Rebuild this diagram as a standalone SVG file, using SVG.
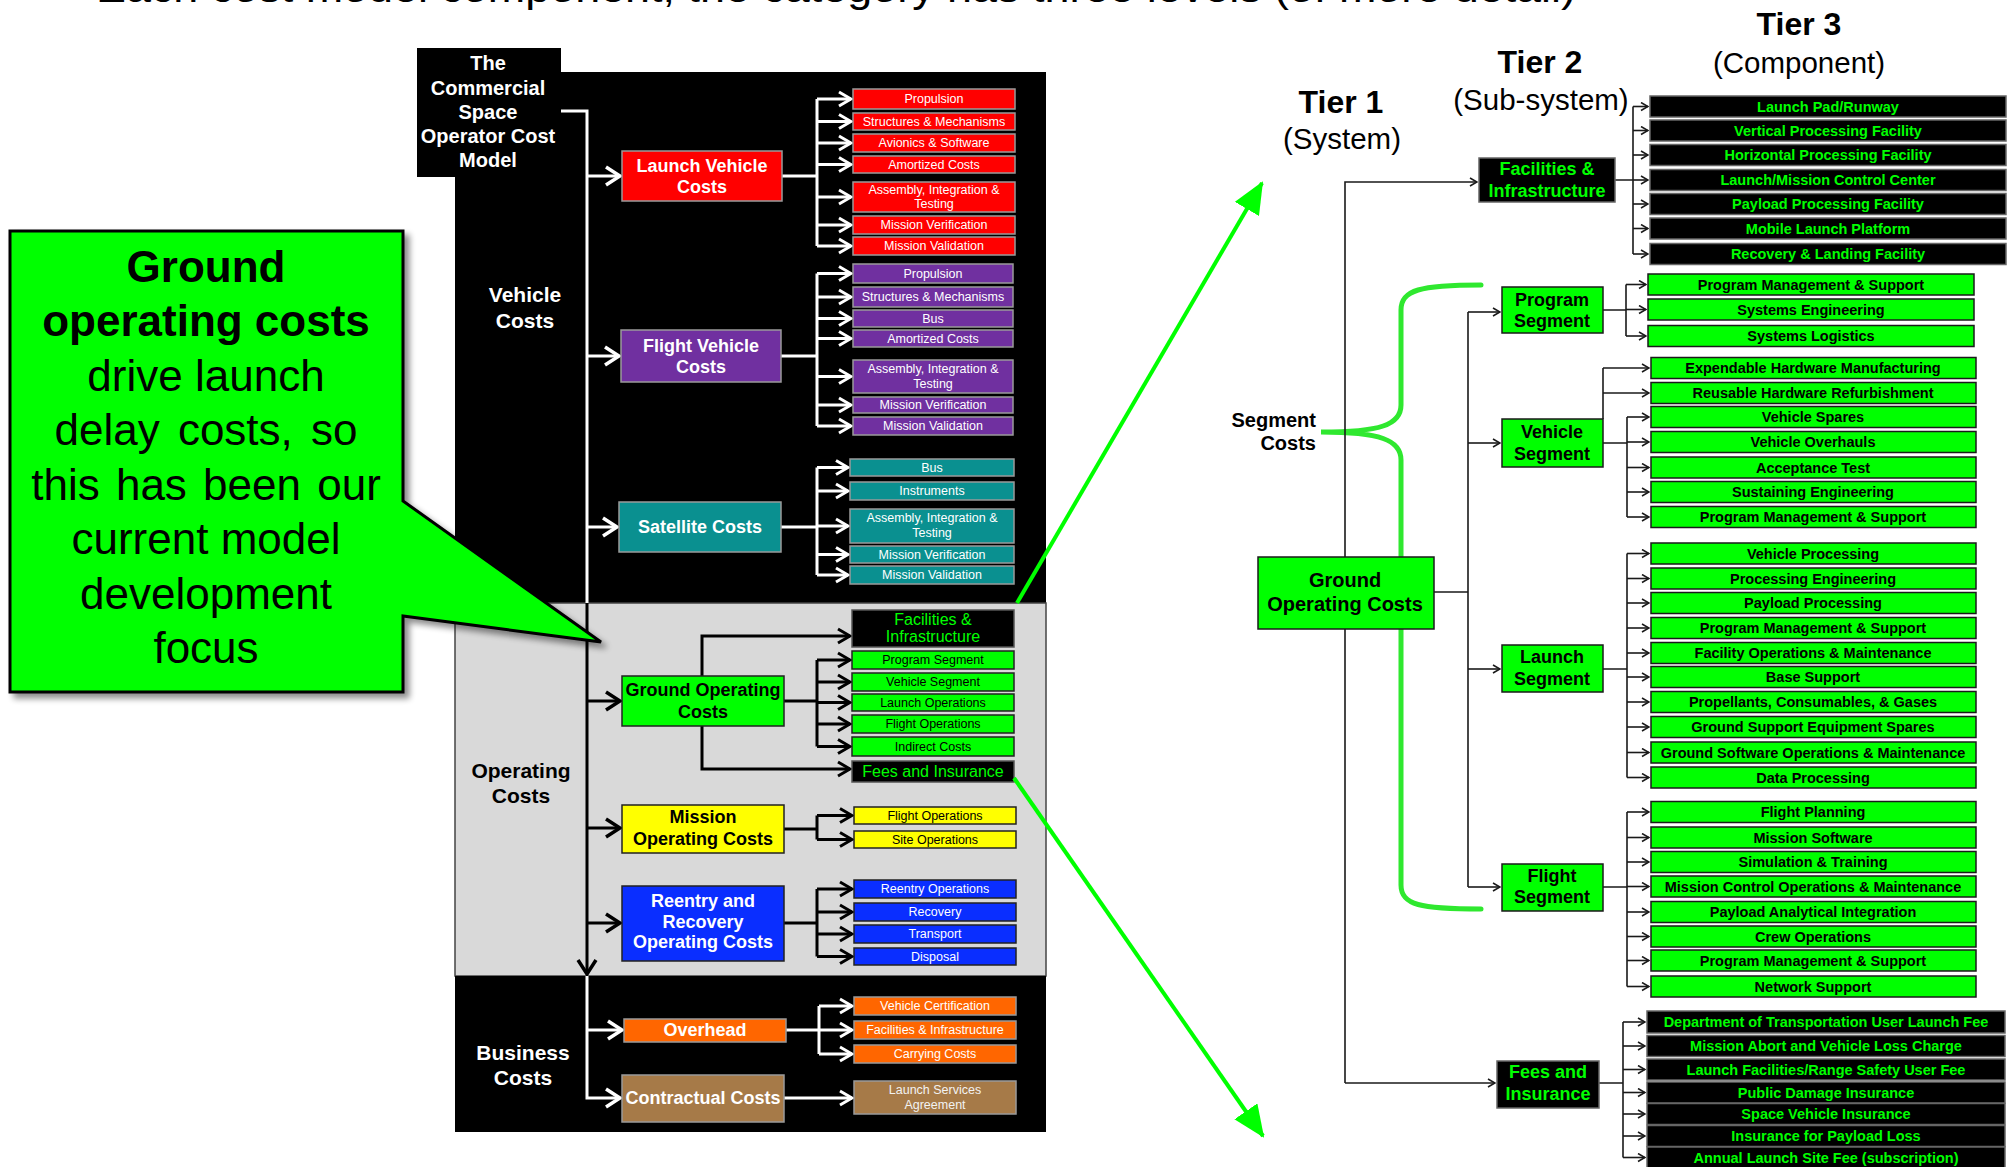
<svg xmlns="http://www.w3.org/2000/svg" width="2011" height="1167" viewBox="0 0 2011 1167">
<defs>
<style>
text{font-family:"Liberation Sans",Arial,sans-serif}
.b{font-weight:bold}
.c{text-anchor:middle}
.w{fill:#fff}
.k{fill:#000}
.g{fill:#00ff00}
.wl{fill:none;stroke:#fff;stroke-width:3}
.bl{fill:none;stroke:#000;stroke-width:3}
.rl{fill:none;stroke:#1a1a1a;stroke-width:1.6}
.si{font-size:12.5px;text-anchor:middle}
.cat{font-size:18px;font-weight:bold;text-anchor:middle}
.it{font-size:14.5px;font-weight:bold;text-anchor:middle}
.t2{font-size:18px;font-weight:bold;text-anchor:middle}
.gi{fill:#00ff00;stroke:#1a1a1a;stroke-width:1.5}
.ki{fill:#000;stroke:#666;stroke-width:1.5}
.lb{stroke:#9a9a9a;stroke-width:1.5}
.db{stroke:#222;stroke-width:1.5}
.red{fill:#ff0000}
.pur{fill:#7030a0}
.tea{fill:#0a9090}
.grn{fill:#00ff00}
.yel{fill:#ffff00}
.blu{fill:#0a2eff}
.ora{fill:#ff6600}
.bro{fill:#a67a48}
.lbl{font-size:21px;font-weight:bold;text-anchor:middle}
.tier{font-size:32px;font-weight:bold;text-anchor:middle;fill:#000}
.sub{font-size:29.5px;text-anchor:middle;fill:#000}
.co{font-size:44px;text-anchor:middle;fill:#000}
</style>
<marker id="wA" markerUnits="userSpaceOnUse" viewBox="0 0 18 22" markerWidth="18" markerHeight="22" refX="16" refY="11" orient="auto"><path d="M2,2 L16,11 L2,20" fill="none" stroke="#fff" stroke-width="3.5"/></marker>
<marker id="bA" markerUnits="userSpaceOnUse" viewBox="0 0 18 22" markerWidth="18" markerHeight="22" refX="16" refY="11" orient="auto"><path d="M2,2 L16,11 L2,20" fill="none" stroke="#000" stroke-width="3.5"/></marker>
<marker id="ws" markerUnits="userSpaceOnUse" viewBox="0 0 16 18" markerWidth="16" markerHeight="18" refX="14" refY="9" orient="auto"><path d="M2,2 L14,9 L2,16" fill="none" stroke="#fff" stroke-width="3"/></marker>
<marker id="bs" markerUnits="userSpaceOnUse" viewBox="0 0 16 18" markerWidth="16" markerHeight="18" refX="14" refY="9" orient="auto"><path d="M2,2 L14,9 L2,16" fill="none" stroke="#000" stroke-width="3"/></marker>
<marker id="ra" markerUnits="userSpaceOnUse" viewBox="0 0 9 10" markerWidth="9" markerHeight="10" refX="8" refY="5" orient="auto"><path d="M1,1 L8,5 L1,9" fill="none" stroke="#1a1a1a" stroke-width="1.6"/></marker>
<marker id="ga" markerUnits="userSpaceOnUse" viewBox="0 0 32 28" markerWidth="32" markerHeight="28" refX="30" refY="14" orient="auto"><path d="M0,0 L32,14 L0,28 Z" fill="#00ff00"/></marker>
<filter id="sh" x="-10%" y="-10%" width="130%" height="130%"><feGaussianBlur in="SourceAlpha" stdDeviation="3"/><feOffset dx="5" dy="5"/><feComponentTransfer><feFuncA type="linear" slope="0.45"/></feComponentTransfer><feMerge><feMergeNode/><feMergeNode in="SourceGraphic"/></feMerge></filter>
</defs>
<rect width="2011" height="1167" fill="#fff"/>
<text x="96" y="2" font-size="40" textLength="1480" lengthAdjust="spacingAndGlyphs">Each cost model component, the category has three levels (of more detail)</text>

<!-- LEFT PANEL -->
<g id="left-panel">
<rect x="455" y="72" width="591" height="531" fill="#000"/>
<rect x="455" y="603" width="591" height="373" fill="#d9d9d9" stroke="#444" stroke-width="1.5"/>
<rect x="455" y="976" width="591" height="156" fill="#000"/>
<text class="lbl w" x="525" y="302">Vehicle</text>
<text class="lbl w" x="525" y="328">Costs</text>
<text class="lbl k" x="521" y="778">Operating</text>
<text class="lbl k" x="521" y="803">Costs</text>
<text class="lbl w" x="523" y="1060">Business</text>
<text class="lbl w" x="523" y="1085">Costs</text>
</g>
<g id="title">
<rect x="417" y="48" width="144" height="129" fill="#000"/>
<text class="w b c" font-size="20" x="488" y="70">The</text>
<text class="w b c" font-size="20" x="488" y="95">Commercial</text>
<text class="w b c" font-size="20" x="488" y="119">Space</text>
<text class="w b c" font-size="20" x="488" y="143">Operator Cost</text>
<text class="w b c" font-size="20" x="488" y="167">Model</text>
</g>

<g id="left-connectors">
<path class="wl" d="M561,111 H587 V603"/>
<path class="wl" d="M587,176 H620" marker-end="url(#wA)"/>
<path class="wl" d="M587,356 H619" marker-end="url(#wA)"/>
<path class="wl" d="M587,527 H617" marker-end="url(#wA)"/>
<path class="bl" d="M587,603 V974" marker-end="url(#bA)"/>
<path class="bl" d="M587,701 H620" marker-end="url(#bA)"/>
<path class="bl" d="M587,828 H620" marker-end="url(#bA)"/>
<path class="bl" d="M587,923 H620" marker-end="url(#bA)"/>
<path class="wl" d="M587,976 V1098 H620" marker-end="url(#wA)"/>
<path class="wl" d="M587,1030 H622" marker-end="url(#wA)"/>
<!-- LV -->
<path class="wl" d="M782,176 H817 M817,99 V246"/>
<path class="wl" d="M817,99 H851" marker-end="url(#ws)"/>
<path class="wl" d="M817,121.5 H851" marker-end="url(#ws)"/>
<path class="wl" d="M817,143 H851" marker-end="url(#ws)"/>
<path class="wl" d="M817,164.5 H851" marker-end="url(#ws)"/>
<path class="wl" d="M817,197 H851" marker-end="url(#ws)"/>
<path class="wl" d="M817,225 H851" marker-end="url(#ws)"/>
<path class="wl" d="M817,246 H851" marker-end="url(#ws)"/>
<!-- FV -->
<path class="wl" d="M781,356 H817 M817,273.5 V426"/>
<path class="wl" d="M817,273.5 H851" marker-end="url(#ws)"/>
<path class="wl" d="M817,297 H851" marker-end="url(#ws)"/>
<path class="wl" d="M817,318.5 H851" marker-end="url(#ws)"/>
<path class="wl" d="M817,338.5 H851" marker-end="url(#ws)"/>
<path class="wl" d="M817,376.5 H851" marker-end="url(#ws)"/>
<path class="wl" d="M817,405 H851" marker-end="url(#ws)"/>
<path class="wl" d="M817,426 H851" marker-end="url(#ws)"/>
<!-- SAT -->
<path class="wl" d="M781,527 H817 M817,467.5 V575"/>
<path class="wl" d="M817,467.5 H848" marker-end="url(#ws)"/>
<path class="wl" d="M817,491 H848" marker-end="url(#ws)"/>
<path class="wl" d="M817,526 H848" marker-end="url(#ws)"/>
<path class="wl" d="M817,554.5 H848" marker-end="url(#ws)"/>
<path class="wl" d="M817,575 H848" marker-end="url(#ws)"/>
<!-- GROUND -->
<path class="bl" d="M784,701 H817 M817,660 V746.5"/>
<path class="bl" d="M702,676 V636 H850" marker-end="url(#bs)"/>
<path class="bl" d="M702,726 V769 H850" marker-end="url(#bs)"/>
<path class="bl" d="M817,660 H850" marker-end="url(#bs)"/>
<path class="bl" d="M817,682 H850" marker-end="url(#bs)"/>
<path class="bl" d="M817,702.5 H850" marker-end="url(#bs)"/>
<path class="bl" d="M817,724 H850" marker-end="url(#bs)"/>
<path class="bl" d="M817,746.5 H850" marker-end="url(#bs)"/>
<!-- MISSION -->
<path class="bl" d="M784,829 H817 M817,815.5 V839.5"/>
<path class="bl" d="M817,815.5 H852" marker-end="url(#bs)"/>
<path class="bl" d="M817,839.5 H852" marker-end="url(#bs)"/>
<!-- REENTRY -->
<path class="bl" d="M784,923 H817 M817,889 V956.5"/>
<path class="bl" d="M817,889 H852" marker-end="url(#bs)"/>
<path class="bl" d="M817,912 H852" marker-end="url(#bs)"/>
<path class="bl" d="M817,934 H852" marker-end="url(#bs)"/>
<path class="bl" d="M817,956.5 H852" marker-end="url(#bs)"/>
<!-- OVERHEAD -->
<path class="wl" d="M786,1030 H819 M819,1006 V1054"/>
<path class="wl" d="M819,1006 H852" marker-end="url(#ws)"/>
<path class="wl" d="M819,1030 H852" marker-end="url(#ws)"/>
<path class="wl" d="M819,1054 H852" marker-end="url(#ws)"/>
<!-- CONTRACT -->
<path class="wl" d="M784,1098 H852" marker-end="url(#ws)"/>
</g>

<g id="launch-vehicle-costs">
<rect class="red lb" x="622" y="151" width="160" height="50"/>
<text class="cat w" x="702" y="172">Launch Vehicle</text>
<text class="cat w" x="702" y="193">Costs</text>
</g>
<g id="lv-items">
<rect class="red lb" x="853" y="89" width="162" height="20"/><text class="si w" x="934" y="103.4">Propulsion</text>
<rect class="red lb" x="853" y="113" width="162" height="17"/><text class="si w" x="934" y="125.9">Structures &amp; Mechanisms</text>
<rect class="red lb" x="853" y="134" width="162" height="18"/><text class="si w" x="934" y="147.4">Avionics &amp; Software</text>
<rect class="red lb" x="853" y="156" width="162" height="17"/><text class="si w" x="934" y="168.9">Amortized Costs</text>
<rect class="red lb" x="853" y="182" width="162" height="30"/><text class="si w" x="934" y="193.5">Assembly, Integration &amp;</text><text class="si w" x="934" y="208">Testing</text>
<rect class="red lb" x="853" y="216" width="162" height="18"/><text class="si w" x="934" y="229.4">Mission Verification</text>
<rect class="red lb" x="853" y="237" width="162" height="18"/><text class="si w" x="934" y="250.4">Mission Validation</text>
</g>

<g id="flight-vehicle-costs">
<rect class="pur lb" x="621" y="330" width="160" height="52"/>
<text class="cat w" x="701" y="352">Flight Vehicle</text>
<text class="cat w" x="701" y="373">Costs</text>
</g>
<g id="fv-items">
<rect class="pur lb" x="853" y="264" width="160" height="19"/><text class="si w" x="933" y="277.9">Propulsion</text>
<rect class="pur lb" x="853" y="287" width="160" height="20"/><text class="si w" x="933" y="301.4">Structures &amp; Mechanisms</text>
<rect class="pur lb" x="853" y="310" width="160" height="17"/><text class="si w" x="933" y="322.9">Bus</text>
<rect class="pur lb" x="853" y="330" width="160" height="17"/><text class="si w" x="933" y="342.9">Amortized Costs</text>
<rect class="pur lb" x="853" y="360" width="160" height="33"/><text class="si w" x="933" y="373">Assembly, Integration &amp;</text><text class="si w" x="933" y="388">Testing</text>
<rect class="pur lb" x="853" y="397" width="160" height="16"/><text class="si w" x="933" y="409.4">Mission Verification</text>
<rect class="pur lb" x="853" y="417" width="160" height="18"/><text class="si w" x="933" y="430.4">Mission Validation</text>
</g>

<g id="satellite-costs">
<rect class="tea lb" x="619" y="502" width="162" height="50"/>
<text class="cat w" x="700" y="533">Satellite Costs</text>
</g>
<g id="sat-items">
<rect class="tea lb" x="850" y="459" width="164" height="17"/><text class="si w" x="932" y="471.9">Bus</text>
<rect class="tea lb" x="850" y="482" width="164" height="18"/><text class="si w" x="932" y="495.4">Instruments</text>
<rect class="tea lb" x="850" y="509" width="164" height="34"/><text class="si w" x="932" y="522">Assembly, Integration &amp;</text><text class="si w" x="932" y="537">Testing</text>
<rect class="tea lb" x="850" y="546" width="164" height="17"/><text class="si w" x="932" y="558.9">Mission Verification</text>
<rect class="tea lb" x="850" y="566" width="164" height="18"/><text class="si w" x="932" y="579.4">Mission Validation</text>
</g>

<g id="ground-operating-costs-left">
<rect class="grn db" x="622" y="676" width="162" height="50"/>
<text class="cat k" x="703" y="696">Ground Operating</text>
<text class="cat k" x="703" y="718">Costs</text>
</g>
<g id="ground-items-left">
<rect x="852" y="610" width="162" height="37" fill="#000" stroke="#555" stroke-width="1.5"/><text class="g c" font-size="16" x="933" y="625">Facilities &amp;</text><text class="g c" font-size="16" x="933" y="642">Infrastructure</text>
<rect class="grn db" x="852" y="651" width="162" height="18"/><text class="si k" x="933" y="664.4">Program Segment</text>
<rect class="grn db" x="852" y="673" width="162" height="18"/><text class="si k" x="933" y="686.4">Vehicle Segment</text>
<rect class="grn db" x="852" y="694" width="162" height="17"/><text class="si k" x="933" y="706.9">Launch Operations</text>
<rect class="grn db" x="852" y="715" width="162" height="18"/><text class="si k" x="933" y="728.4">Flight Operations</text>
<rect class="grn db" x="852" y="737" width="162" height="19"/><text class="si k" x="933" y="750.9">Indirect Costs</text>
<rect x="852" y="761" width="162" height="21" fill="#000" stroke="#555" stroke-width="1.5"/><text class="g c" font-size="16" x="933" y="777">Fees and Insurance</text>
</g>

<g id="mission-operating-costs">
<rect class="yel db" x="622" y="805" width="162" height="48"/>
<text class="cat k" x="703" y="823">Mission</text>
<text class="cat k" x="703" y="845">Operating Costs</text>
</g>
<g id="mission-items">
<rect class="yel db" x="854" y="807" width="162" height="17"/><text class="si k" x="935" y="819.9">Flight Operations</text>
<rect class="yel db" x="854" y="831" width="162" height="17"/><text class="si k" x="935" y="843.9">Site Operations</text>
</g>

<g id="reentry-recovery-costs">
<rect class="blu db" x="622" y="886" width="162" height="75"/>
<text class="cat w" x="703" y="907">Reentry and</text>
<text class="cat w" x="703" y="928">Recovery</text>
<text class="cat w" x="703" y="948">Operating Costs</text>
</g>
<g id="reentry-items">
<rect class="blu db" x="854" y="880" width="162" height="18"/><text class="si w" x="935" y="893.4">Reentry Operations</text>
<rect class="blu db" x="854" y="903" width="162" height="18"/><text class="si w" x="935" y="916.4">Recovery</text>
<rect class="blu db" x="854" y="925" width="162" height="18"/><text class="si w" x="935" y="938.4">Transport</text>
<rect class="blu db" x="854" y="948" width="162" height="17"/><text class="si w" x="935" y="960.9">Disposal</text>
</g>

<g id="overhead">
<rect class="ora lb" x="624" y="1019" width="162" height="23"/>
<text class="cat w" x="705" y="1036">Overhead</text>
</g>
<g id="overhead-items">
<rect class="ora lb" x="854" y="997" width="162" height="18"/><text class="si w" x="935" y="1010.4">Vehicle Certification</text>
<rect class="ora lb" x="854" y="1021" width="162" height="18"/><text class="si w" x="935" y="1034.4">Facilities &amp; Infrastructure</text>
<rect class="ora lb" x="854" y="1045" width="162" height="18"/><text class="si w" x="935" y="1058.4">Carrying Costs</text>
</g>
<g id="contractual-costs">
<rect class="bro lb" x="622" y="1075" width="162" height="47"/>
<text class="cat w" x="703" y="1104">Contractual Costs</text>
</g>
<g id="contractual-items">
<rect class="bro lb" x="854" y="1081" width="162" height="33"/><text class="si" fill="#f2f2f2" x="935" y="1094">Launch Services</text><text class="si" fill="#f2f2f2" x="935" y="1109">Agreement</text>
</g>

<!-- CALLOUT -->
<g id="callout" filter="url(#sh)">
<path d="M10,231 H403 V501 L601,642 L403,616 V692 H10 Z" fill="#00ff00" stroke="#000" stroke-width="3" stroke-linejoin="miter"/>
</g>
<g id="callout-text">
<text class="co b" x="206" y="282">Ground</text>
<text class="co b" x="206" y="336">operating costs</text>
<text class="co" x="206" y="391">drive launch</text>
<text class="co" x="206" y="445" word-spacing="6">delay costs, so</text>
<text class="co" x="206" y="500" word-spacing="4">this has been our</text>
<text class="co" x="206" y="554">current model</text>
<text class="co" x="206" y="609">development</text>
<text class="co" x="206" y="663">focus</text>
</g>

<!-- RIGHT SIDE -->
<g id="tier-labels">
<text class="tier" x="1799" y="35">Tier 3</text>
<text class="sub" x="1799" y="73">(Component)</text>
<text class="tier" x="1540" y="73">Tier 2</text>
<text class="sub" x="1541" y="110">(Sub-system)</text>
<text class="tier" x="1341" y="113">Tier 1</text>
<text class="sub" x="1342" y="149">(System)</text>
<text class="b" font-size="20" text-anchor="end" x="1316" y="427">Segment</text>
<text class="b" font-size="20" text-anchor="end" x="1316" y="450">Costs</text>
</g>

<g id="brace">
<path d="M1481,285 C1420,285 1401,290 1401,310 V405 C1401,425 1380,432 1321,432 C1380,432 1401,440 1401,460 V885 C1401,905 1420,909 1481,909" fill="none" stroke="#2fe82f" stroke-width="5" stroke-linecap="round"/>
</g>

<g id="right-connectors">
<path class="rl" d="M1345,1083 V182 H1477" marker-end="url(#ra)"/>
<path class="rl" d="M1345,1083 H1495" marker-end="url(#ra)"/>
<path class="rl" d="M1615,180 H1633 M1633,106.5 V254"/>
<path class="rl" d="M1633,106.5 H1648" marker-end="url(#ra)"/>
<path class="rl" d="M1633,130.5 H1648" marker-end="url(#ra)"/>
<path class="rl" d="M1633,155 H1648" marker-end="url(#ra)"/>
<path class="rl" d="M1633,180 H1648" marker-end="url(#ra)"/>
<path class="rl" d="M1633,204 H1648" marker-end="url(#ra)"/>
<path class="rl" d="M1633,228.5 H1648" marker-end="url(#ra)"/>
<path class="rl" d="M1633,254 H1648" marker-end="url(#ra)"/>
<path class="rl" d="M1434,592 H1468 M1468,312 V887"/>
<path class="rl" d="M1468,312 H1500" marker-end="url(#ra)"/>
<path class="rl" d="M1468,443 H1500" marker-end="url(#ra)"/>
<path class="rl" d="M1468,669 H1500" marker-end="url(#ra)"/>
<path class="rl" d="M1468,887 H1500" marker-end="url(#ra)"/>
<path class="rl" d="M1603,310 H1626 M1626,284.5 V336" stroke-width="2.4"/>
<path class="rl" d="M1626,284.5 H1646" marker-end="url(#ra)"/>
<path class="rl" d="M1626,309.5 H1646" marker-end="url(#ra)"/>
<path class="rl" d="M1626,336 H1646" marker-end="url(#ra)"/>
<path class="rl" d="M1603,419 V368"/>
<path class="rl" d="M1603,368 H1649" marker-end="url(#ra)"/>
<path class="rl" d="M1603,393 H1649" marker-end="url(#ra)"/>
<path class="rl" d="M1603,443 H1627 M1627,417 V517" stroke-width="2.4"/>
<path class="rl" d="M1627,417 H1649" marker-end="url(#ra)"/>
<path class="rl" d="M1627,442 H1649" marker-end="url(#ra)"/>
<path class="rl" d="M1627,467.5 H1649" marker-end="url(#ra)"/>
<path class="rl" d="M1627,492 H1649" marker-end="url(#ra)"/>
<path class="rl" d="M1627,517 H1649" marker-end="url(#ra)"/>
<path class="rl" d="M1603,669 H1627 M1627,553.5 V777.5" stroke-width="2.4"/>
<path class="rl" d="M1627,553.5 H1649" marker-end="url(#ra)"/>
<path class="rl" d="M1627,578.5 H1649" marker-end="url(#ra)"/>
<path class="rl" d="M1627,603 H1649" marker-end="url(#ra)"/>
<path class="rl" d="M1627,628 H1649" marker-end="url(#ra)"/>
<path class="rl" d="M1627,653 H1649" marker-end="url(#ra)"/>
<path class="rl" d="M1627,677 H1649" marker-end="url(#ra)"/>
<path class="rl" d="M1627,702 H1649" marker-end="url(#ra)"/>
<path class="rl" d="M1627,727 H1649" marker-end="url(#ra)"/>
<path class="rl" d="M1627,752.5 H1649" marker-end="url(#ra)"/>
<path class="rl" d="M1627,777.5 H1649" marker-end="url(#ra)"/>
<path class="rl" d="M1603,887 H1627 M1627,812 V986.5" stroke-width="2.4"/>
<path class="rl" d="M1627,812 H1649" marker-end="url(#ra)"/>
<path class="rl" d="M1627,837.5 H1649" marker-end="url(#ra)"/>
<path class="rl" d="M1627,862 H1649" marker-end="url(#ra)"/>
<path class="rl" d="M1627,886.5 H1649" marker-end="url(#ra)"/>
<path class="rl" d="M1627,912 H1649" marker-end="url(#ra)"/>
<path class="rl" d="M1627,936.5 H1649" marker-end="url(#ra)"/>
<path class="rl" d="M1627,960.5 H1649" marker-end="url(#ra)"/>
<path class="rl" d="M1627,986.5 H1649" marker-end="url(#ra)"/>
<path class="rl" d="M1599,1083 H1623 M1623,1022 V1157.5" stroke-width="2.4"/>
<path class="rl" d="M1623,1022 H1645" marker-end="url(#ra)"/>
<path class="rl" d="M1623,1046 H1645" marker-end="url(#ra)"/>
<path class="rl" d="M1623,1069.5 H1645" marker-end="url(#ra)"/>
<path class="rl" d="M1623,1092.5 H1645" marker-end="url(#ra)"/>
<path class="rl" d="M1623,1114 H1645" marker-end="url(#ra)"/>
<path class="rl" d="M1623,1136 H1645" marker-end="url(#ra)"/>
<path class="rl" d="M1623,1157.5 H1645" marker-end="url(#ra)"/>
</g>

<g id="ground-operating-costs">
<rect class="gi" x="1258" y="557" width="176" height="72" stroke-width="2"/>
<text class="b c" font-size="20" x="1345" y="587">Ground</text>
<text class="b c" font-size="20" x="1345" y="611">Operating Costs</text>
</g>

<g id="facilities-infrastructure">
<rect class="ki" x="1479" y="158" width="136" height="44"/>
<text class="t2 g" x="1547" y="175">Facilities &amp;</text>
<text class="t2 g" x="1547" y="197">Infrastructure</text>
</g>
<g id="facilities-items">
<rect class="ki" x="1650" y="96" width="356" height="21"/><text class="it g" x="1828" y="111.5">Launch Pad/Runway</text>
<rect class="ki" x="1650" y="120" width="356" height="21"/><text class="it g" x="1828" y="135.5">Vertical Processing Facility</text>
<rect class="ki" x="1650" y="144.5" width="356" height="21"/><text class="it g" x="1828" y="160">Horizontal Processing Facility</text>
<rect class="ki" x="1650" y="169.5" width="356" height="21"/><text class="it g" x="1828" y="185">Launch/Mission Control Center</text>
<rect class="ki" x="1650" y="193.5" width="356" height="21"/><text class="it g" x="1828" y="209">Payload Processing Facility</text>
<rect class="ki" x="1650" y="218" width="356" height="21"/><text class="it g" x="1828" y="233.5">Mobile Launch Platform</text>
<rect class="ki" x="1650" y="243.5" width="356" height="21"/><text class="it g" x="1828" y="259">Recovery &amp; Landing Facility</text>
</g>

<g id="program-segment">
<rect class="gi" x="1502" y="287" width="101" height="46" stroke-width="2"/>
<text class="t2 k" x="1552" y="306">Program</text>
<text class="t2 k" x="1552" y="327">Segment</text>
</g>
<g id="program-items">
<rect class="gi" x="1648" y="274" width="326" height="21"/><text class="it k" x="1811" y="289.5">Program Management &amp; Support</text>
<rect class="gi" x="1648" y="299" width="326" height="21"/><text class="it k" x="1811" y="314.5">Systems Engineering</text>
<rect class="gi" x="1648" y="325.5" width="326" height="21"/><text class="it k" x="1811" y="341">Systems Logistics</text>
</g>

<g id="vehicle-segment">
<rect class="gi" x="1502" y="419" width="101" height="48" stroke-width="2"/>
<text class="t2 k" x="1552" y="438">Vehicle</text>
<text class="t2 k" x="1552" y="460">Segment</text>
</g>
<g id="vehicle-items">
<rect class="gi" x="1651" y="357.5" width="325" height="21"/><text class="it k" x="1813" y="373">Expendable Hardware Manufacturing</text>
<rect class="gi" x="1651" y="382.5" width="325" height="21"/><text class="it k" x="1813" y="398">Reusable Hardware Refurbishment</text>
<rect class="gi" x="1651" y="406.5" width="325" height="21"/><text class="it k" x="1813" y="422">Vehicle Spares</text>
<rect class="gi" x="1651" y="431.5" width="325" height="21"/><text class="it k" x="1813" y="447">Vehicle Overhauls</text>
<rect class="gi" x="1651" y="457" width="325" height="21"/><text class="it k" x="1813" y="472.5">Acceptance Test</text>
<rect class="gi" x="1651" y="481.5" width="325" height="21"/><text class="it k" x="1813" y="497">Sustaining Engineering</text>
<rect class="gi" x="1651" y="506.5" width="325" height="21"/><text class="it k" x="1813" y="522">Program Management &amp; Support</text>
</g>

<g id="launch-segment">
<rect class="gi" x="1502" y="645" width="101" height="47" stroke-width="2"/>
<text class="t2 k" x="1552" y="663">Launch</text>
<text class="t2 k" x="1552" y="685">Segment</text>
</g>
<g id="launch-items">
<rect class="gi" x="1651" y="543" width="325" height="21"/><text class="it k" x="1813" y="558.5">Vehicle Processing</text>
<rect class="gi" x="1651" y="568" width="325" height="21"/><text class="it k" x="1813" y="583.5">Processing Engineering</text>
<rect class="gi" x="1651" y="592.5" width="325" height="21"/><text class="it k" x="1813" y="608">Payload Processing</text>
<rect class="gi" x="1651" y="617.5" width="325" height="21"/><text class="it k" x="1813" y="633">Program Management &amp; Support</text>
<rect class="gi" x="1651" y="642.5" width="325" height="21"/><text class="it k" x="1813" y="658">Facility Operations &amp; Maintenance</text>
<rect class="gi" x="1651" y="666.5" width="325" height="21"/><text class="it k" x="1813" y="682">Base Support</text>
<rect class="gi" x="1651" y="691.5" width="325" height="21"/><text class="it k" x="1813" y="707">Propellants, Consumables, &amp; Gases</text>
<rect class="gi" x="1651" y="716.5" width="325" height="21"/><text class="it k" x="1813" y="732">Ground Support Equipment Spares</text>
<rect class="gi" x="1651" y="742" width="325" height="21"/><text class="it k" x="1813" y="757.5">Ground Software Operations &amp; Maintenance</text>
<rect class="gi" x="1651" y="767" width="325" height="21"/><text class="it k" x="1813" y="782.5">Data Processing</text>
</g>

<g id="flight-segment">
<rect class="gi" x="1502" y="864" width="101" height="47" stroke-width="2"/>
<text class="t2 k" x="1552" y="882">Flight</text>
<text class="t2 k" x="1552" y="903">Segment</text>
</g>
<g id="flight-items">
<rect class="gi" x="1651" y="801.5" width="325" height="21"/><text class="it k" x="1813" y="817">Flight Planning</text>
<rect class="gi" x="1651" y="827" width="325" height="21"/><text class="it k" x="1813" y="842.5">Mission Software</text>
<rect class="gi" x="1651" y="851.5" width="325" height="21"/><text class="it k" x="1813" y="867">Simulation &amp; Training</text>
<rect class="gi" x="1651" y="876" width="325" height="21"/><text class="it k" x="1813" y="891.5">Mission Control Operations &amp; Maintenance</text>
<rect class="gi" x="1651" y="901.5" width="325" height="21"/><text class="it k" x="1813" y="917">Payload Analytical Integration</text>
<rect class="gi" x="1651" y="926" width="325" height="21"/><text class="it k" x="1813" y="941.5">Crew Operations</text>
<rect class="gi" x="1651" y="950" width="325" height="21"/><text class="it k" x="1813" y="965.5">Program Management &amp; Support</text>
<rect class="gi" x="1651" y="976" width="325" height="21"/><text class="it k" x="1813" y="991.5">Network Support</text>
</g>

<g id="fees-and-insurance">
<rect class="ki" x="1497" y="1061" width="102" height="47"/>
<text class="t2 g" x="1548" y="1078">Fees and</text>
<text class="t2 g" x="1548" y="1100">Insurance</text>
</g>
<g id="fees-items">
<rect class="ki" x="1647" y="1011" width="358" height="22"/><text class="it g" x="1826" y="1027">Department of Transportation User Launch Fee</text>
<rect class="ki" x="1647" y="1035.5" width="358" height="21"/><text class="it g" x="1826" y="1051">Mission Abort and Vehicle Loss Charge</text>
<rect class="ki" x="1647" y="1059" width="358" height="21"/><text class="it g" x="1826" y="1074.5">Launch Facilities/Range Safety User Fee</text>
<rect class="ki" x="1647" y="1082" width="358" height="21"/><text class="it g" x="1826" y="1097.5">Public Damage Insurance</text>
<rect class="ki" x="1647" y="1103.5" width="358" height="21"/><text class="it g" x="1826" y="1119">Space Vehicle Insurance</text>
<rect class="ki" x="1647" y="1125.5" width="358" height="21"/><text class="it g" x="1826" y="1141">Insurance for Payload Loss</text>
<rect class="ki" x="1647" y="1147" width="358" height="21"/><text class="it g" x="1826" y="1162.5">Annual Launch Site Fee (subscription)</text>
</g>

<g id="green-arrows">
<path d="M1017,603 L1262,183" fill="none" stroke="#00ff00" stroke-width="4" marker-end="url(#ga)"/>
<path d="M1014,778 L1263,1136" fill="none" stroke="#00ff00" stroke-width="4" marker-end="url(#ga)"/>
</g>
</svg>
